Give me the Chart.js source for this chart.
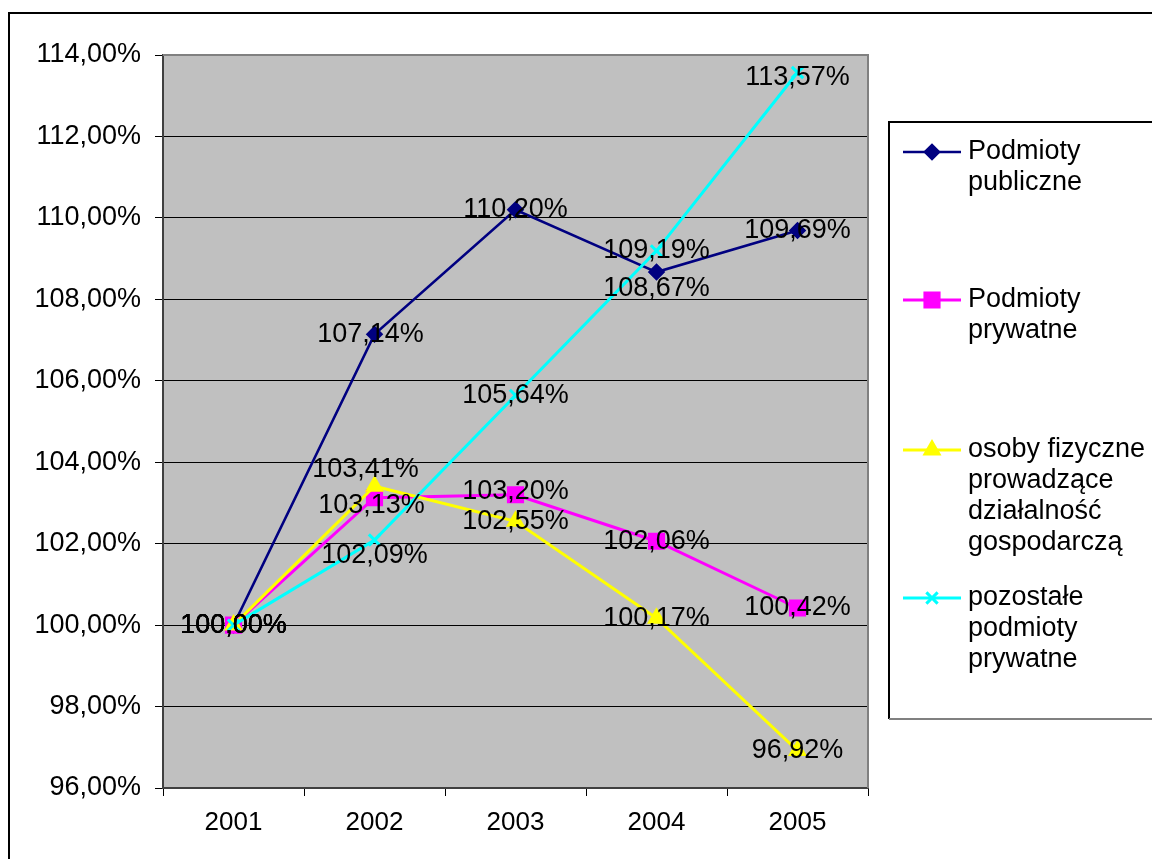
<!DOCTYPE html>
<html lang="pl">

<head>
    <meta charset="UTF-8">
    <title>Dynamika liczby podmiotów</title>
    <script src="https://cdn.jsdelivr.net/npm/chart.js"></script>
    <style>
        body { margin: 0; background: #fff; }
        #wrap { width: 1152px; height: 859px; }
    </style>
</head>

<body>
    <div id="wrap"><canvas id="myChart" width="1152" height="859"></canvas></div>
    <script>
        // dane
        const years = ['2001', '2002', '2003', '2004', '2005'];
        const seriesNames = [
            ['Podmioty', 'publiczne'],
            ['Podmioty', 'prywatne'],
            ['osoby fizyczne', 'prowadzące', 'działalność', 'gospodarczą'],
            ['pozostałe', 'podmioty', 'prywatne']
        ];
        const publiczne = [100.00, 107.14, 110.20, 108.67, 109.69];
        const prywatne = [100.00, 103.13, 103.20, 102.06, 100.42];
        const osobyFizyczne = [100.00, 103.41, 102.55, 100.17, 96.92];
        const pozostale = [100.00, 102.09, 105.64, 109.19, 113.57];
        const yTicks = [96, 98, 100, 102, 104, 106, 108, 110, 112, 114];

        const FONT = "'Liberation Sans', Arial, sans-serif";
        const fmt = v => v.toFixed(2).replace('.', ',') + '%';

        // przesunięcia etykiet danych (żeby nie nachodziły na siebie)
        const labelShift = [
            [[0, 0], [-4, 0], [0, 0], [0, 16], [0, 0]],
            [[0, 0], [-3, 8], [0, -3], [0, 0], [0, 0]],
            [[0, 0], [-9, -17], [0, 0], [0, 0], [0, 0]],
            [[0, 0], [0, 16], [0, 0], [0, 0], [0, 5]]
        ];

        const styles = [
            { color: '#000080', point: 'rectRot', radius: 7, width: 2.5 },
            { color: '#FF00FF', point: 'rect', radius: 10, width: 3 },
            { color: '#FFFF00', point: 'triangle', radius: 8, width: 3 },
            { color: '#00FFFF', point: 'crossRot', radius: 8, width: 3 }
        ];
        const allData = [publiczne, prywatne, osobyFizyczne, pozostale];

        const frameAndPlot = {
            id: 'frameAndPlot',
            beforeDraw(chart) {
                const { ctx, chartArea: a } = chart;
                ctx.save();
                ctx.fillStyle = '#C0C0C0';
                ctx.fillRect(a.left, a.top, a.right - a.left, a.bottom - a.top);
                // ramka zewnętrzna
                ctx.strokeStyle = '#000';
                ctx.lineWidth = 2;
                ctx.beginPath();
                ctx.moveTo(9, 859);
                ctx.lineTo(9, 13);
                ctx.lineTo(1152, 13);
                ctx.stroke();
                ctx.restore();
            },
            afterDatasetsDraw(chart) {
                const { ctx, chartArea: a } = chart;
                ctx.save();
                ctx.strokeStyle = '#808080';
                ctx.lineWidth = 2;
                ctx.beginPath();
                ctx.moveTo(a.left, a.top);
                ctx.lineTo(a.right, a.top);
                ctx.lineTo(a.right, a.bottom);
                ctx.stroke();

                // etykiety danych
                ctx.fillStyle = '#000';
                ctx.font = '27px ' + FONT;
                ctx.textAlign = 'center';
                ctx.textBaseline = 'middle';
                chart.data.datasets.forEach((ds, i) => {
                    const meta = chart.getDatasetMeta(i);
                    meta.data.forEach((pt, j) => {
                        const [dx, dy] = labelShift[i][j];
                        ctx.fillText(fmt(ds.data[j]), pt.x + dx, pt.y + dy);
                    });
                });
                ctx.restore();
            },
            afterDraw(chart) {
                const { ctx } = chart;
                ctx.save();
                // legenda
                ctx.strokeStyle = '#000';
                ctx.lineWidth = 2;
                ctx.beginPath();
                ctx.moveTo(1152, 122);
                ctx.lineTo(889, 122);
                ctx.lineTo(889, 719);
                ctx.stroke();
                ctx.strokeStyle = '#808080';
                ctx.beginPath();
                ctx.moveTo(889, 719);
                ctx.lineTo(1152, 719);
                ctx.stroke();

                const itemY = [152, 300, 450, 598];
                ctx.font = '27px ' + FONT;
                ctx.textAlign = 'left';
                ctx.textBaseline = 'middle';
                styles.forEach((s, i) => {
                    const y = itemY[i];
                    ctx.strokeStyle = s.color;
                    ctx.lineWidth = s.width;
                    ctx.beginPath();
                    ctx.moveTo(903, y);
                    ctx.lineTo(961, y);
                    ctx.stroke();
                    ctx.fillStyle = s.color;
                    Chart.helpers.drawPoint(ctx, {
                        pointStyle: s.point, radius: s.radius, rotation: 0, borderWidth: s.width
                    }, 932, y);
                    ctx.fillStyle = '#000';
                    seriesNames[i].forEach((line, k) => {
                        ctx.fillText(line, 968, y + k * 31);
                    });
                });
                ctx.restore();
            }
        };

        new Chart(document.getElementById('myChart'), {
            type: 'line',
            data: {
                labels: years,
                datasets: allData.map((d, i) => ({
                    label: seriesNames[i].join(' '),
                    data: d,
                    borderColor: styles[i].color,
                    backgroundColor: styles[i].color,
                    borderWidth: styles[i].width,
                    pointStyle: styles[i].point,
                    pointRadius: styles[i].radius,
                    pointBorderWidth: styles[i].width,
                    pointBorderColor: styles[i].color,
                    tension: 0,
                    order: 3 - i
                }))
            },
            options: {
                responsive: false,
                animation: false,
                devicePixelRatio: 1,
                layout: { padding: { left: 0, top: 55, right: 284, bottom: 0 } },
                plugins: {
                    legend: { display: false },
                    tooltip: { enabled: false }
                },
                scales: {
                    x: {
                        offset: true,
                        afterFit: s => { s.height = 71; },
                        grid: {
                            offset: true,
                            drawOnChartArea: false,
                            drawTicks: true,
                            tickLength: 8,
                            color: '#000'
                        },
                        border: { color: '#404040', width: 2 },
                        ticks: {
                            color: '#000',
                            padding: 11,
                            font: { family: FONT, size: 26 }
                        }
                    },
                    y: {
                        min: 96,
                        max: 114,
                        afterFit: s => { s.width = 163; },
                        afterBuildTicks: s => { s.ticks = yTicks.map(v => ({ value: v })); },
                        grid: {
                            color: '#000',
                            lineWidth: 1,
                            tickLength: 8,
                            tickColor: '#000'
                        },
                        border: { color: '#404040', width: 2 },
                        ticks: {
                            color: '#000',
                            padding: 14,
                            callback: v => fmt(v),
                            font: { family: FONT, size: 27 }
                        }
                    }
                }
            },
            plugins: [frameAndPlot]
        });
    </script>
</body>

</html>
